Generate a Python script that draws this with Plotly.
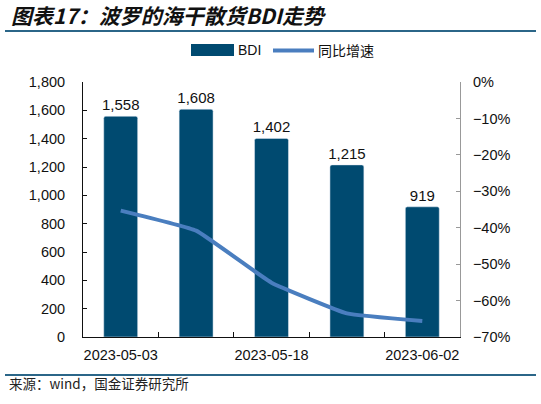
import plotly.graph_objects as go

dates = ["2023-05-03", "2023-05-10", "2023-05-18", "2023-05-25", "2023-06-02"]
bdi = [1558, 1608, 1402, 1215, 919]
yoy = [-0.353, -0.408, -0.551, -0.635, -0.656]
tick_labels = ["2023-05-03", "", "2023-05-18", "", "2023-06-02"]

W, H = 541, 404
L, R, T, B = 83, 81, 82, 67
PW, PH = W - L - R, H - T - B

def px(x):
    return (x - L) / PW

def py(y):
    return (H - B - y) / PH

BAR = "#004A70"
LINE = "#4A7EBF"
RULE = "#2B6688"
FONT = "Liberation Sans, Arial, sans-serif"
CJK = "Noto Sans CJK SC"

fig = go.Figure()
fig.add_trace(go.Bar(
    x=dates, y=bdi, name="BDI", marker=dict(color=BAR, cornerradius=2),
    width=0.45, text=[f"{v:,}" for v in bdi], textposition="outside",
    constraintext="none",
    textfont=dict(size=15, color="#111", family=FONT), cliponaxis=False,
    showlegend=False,
))
fig.add_trace(go.Scatter(
    x=dates, y=yoy, name="同比增速", yaxis="y2", mode="lines",
    line=dict(color=LINE, width=4, shape="spline", smoothing=0.3),
    showlegend=False,
))

shapes = [
    dict(type="line", xref="paper", yref="paper", x0=px(5), x1=px(536), y0=py(31), y1=py(31),
         line=dict(color=RULE, width=2)),
    dict(type="line", xref="paper", yref="paper", x0=px(5), x1=px(536), y0=py(375), y1=py(375),
         line=dict(color=RULE, width=2)),
    dict(type="rect", xref="paper", yref="paper", x0=px(191), x1=px(234), y0=py(56), y1=py(44),
         fillcolor=BAR, line=dict(width=0)),
    dict(type="line", xref="paper", yref="paper", x0=px(273), x1=px(314), y0=py(50.5), y1=py(50.5),
         line=dict(color=LINE, width=4)),
]

annotations = [
    dict(text="图表17：波罗的海干散货BDI走势", xref="paper", yref="paper", x=px(9), y=py(15),
         xanchor="left", yanchor="middle", showarrow=False,
         font=dict(family=CJK, size=21, color="#111", weight="bold", style="italic")),
    dict(text="BDI", xref="paper", yref="paper", x=px(236), y=py(50), xanchor="left", yanchor="middle",
         showarrow=False, font=dict(family=FONT, size=14, color="#111")),
    dict(text="同比增速", xref="paper", yref="paper", x=px(316), y=py(50), xanchor="left", yanchor="middle",
         showarrow=False, font=dict(family=CJK, size=14, color="#111")),
    dict(text="来源：wind，国金证券研究所", xref="paper", yref="paper", x=px(7), y=py(383),
         xanchor="left", yanchor="middle", showarrow=False,
         font=dict(family=CJK, size=13.5, color="#222")),
]

fig.update_layout(
    width=W, height=H, margin=dict(l=L, r=R, t=T, b=B, autoexpand=False),
    paper_bgcolor="white", plot_bgcolor="white",
    font=dict(family=FONT, size=14, color="#111"),
    shapes=shapes, annotations=annotations, showlegend=False,
    xaxis=dict(type="category", tickvals=dates, ticktext=tick_labels, tickson="boundaries",
               tickangle=0, ticks="inside", ticklen=5, tickcolor="#111", showline=True,
               linecolor="#111", linewidth=1, showgrid=False, range=[-0.5, 4.5],
               ticklabelstandoff=5, tickfont=dict(size=14.5)),
    yaxis=dict(range=[0, 1800], dtick=200, tickformat=",", ticks="inside", ticklen=4,
               tickcolor="#111", showline=True, linecolor="#111", linewidth=1, showgrid=False,
               zeroline=False, ticklabelstandoff=14, tickfont=dict(size=14.5)),
    yaxis2=dict(range=[-0.7, 0], dtick=0.1, tickformat=".0%", overlaying="y", side="right",
                ticks="inside", ticklen=4, tickcolor="#999", showline=True, linecolor="#999",
                linewidth=1, showgrid=False, zeroline=False, ticklabelstandoff=9,
                tickfont=dict(size=14.5)),
)

fig.write_html("out.html", config={"displayModeBar": False},
               post_script="document.body.style.margin='0';document.body.style.overflow='hidden';")
